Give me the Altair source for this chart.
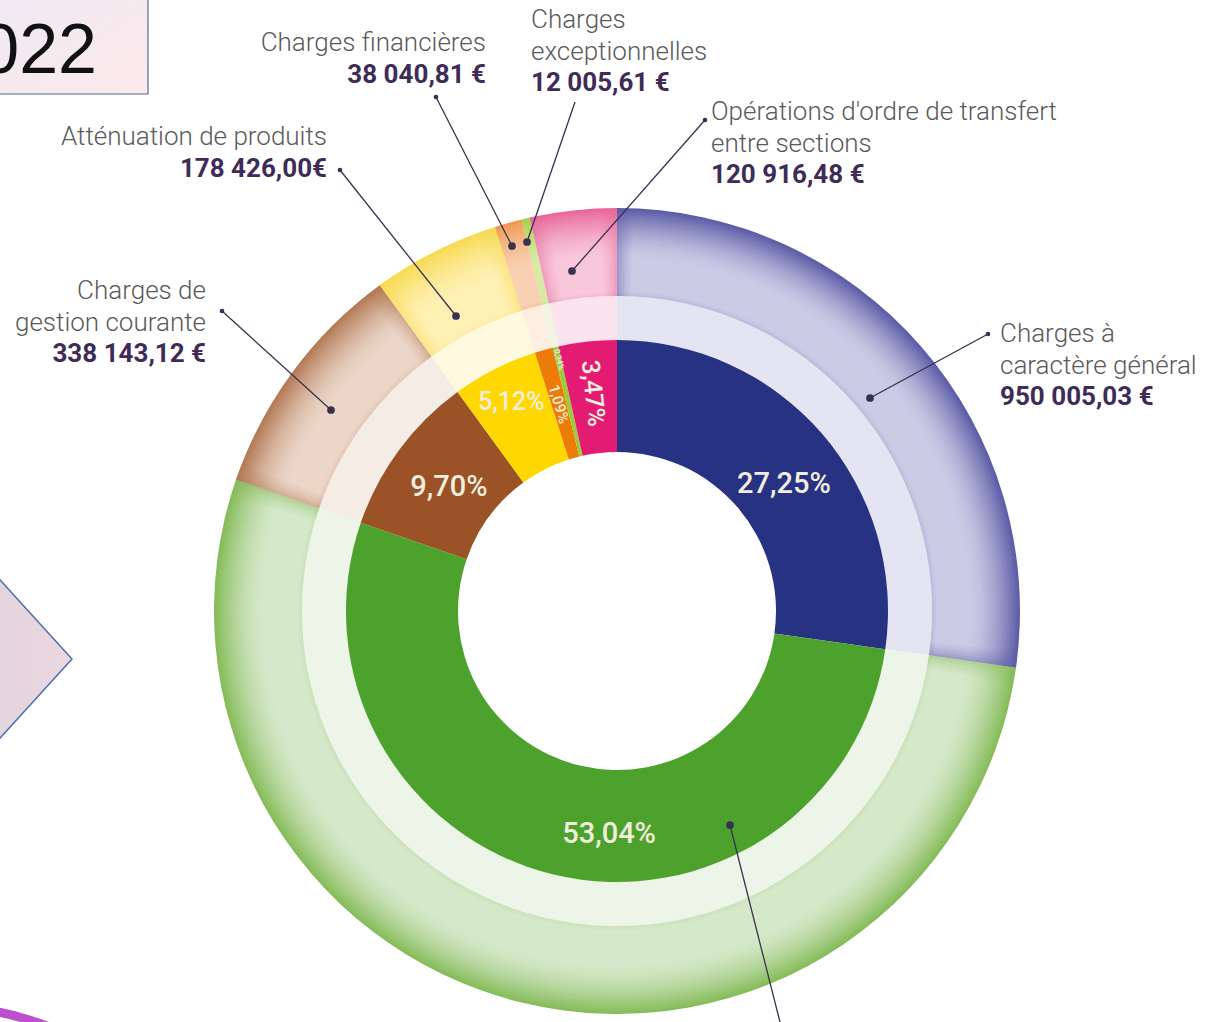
import altair as alt
import pandas as pd

# ---------------- data ----------------
categories = [
    "Charges à caractère général",
    "Charges de personnel",
    "Charges de gestion courante",
    "Atténuation de produits",
    "Charges financières",
    "Charges exceptionnelles",
    "Opérations d'ordre de transfert entre sections",
]
amount_labels = ["950 005,03 €", "", "338 143,12 €", "178 426,00€", "38 040,81 €", "12 005,61 €", "120 916,48 €"]
percents = [27.25, 53.04, 9.70, 5.12, 1.09, 0.34, 3.47]
pct_labels = ["27,25%", "53,04%", "9,70%", "5,12%", "1,09%", "0,34%", "3,47%"]

# ---------------- styles ----------------
main_colors = ["#283283", "#4da22d", "#9a5226", "#fed800", "#ec7b08", "#9fca3c", "#e31b72"]
band_colors = ["#e5e4f3", "#edf4e8", "#f5ece6", "#fff9df", "#fdeee2", "#f0f6e2", "#fbe4ee"]
body_colors = ["#cbcbe6", "#d6e8ca", "#ebd6c8", "#fff0b4", "#f9d0b2", "#d7eba5", "#f8c8da"]
rim_colors = ["#5a5aa6", "#84bb56", "#b27852", "#f7da50", "#ee9850", "#a4d04a", "#e76598"]
label_radius = [210, 223, 209, 234, 215, 258, 219]
label_nudge = [1.0, -3.2, 0, 0, 0, 0, 0]
label_angle = [0, 0, 0, 0, 74, 76, 84]
label_size = [29, 29, 29, 25, 15, 8, 25]

CX, CY = 617, 611
R_HOLE, R_IN, R_BAND, R_OUT = 159, 271, 315, 403
TOTAL = sum(percents)
FONT = "Roboto"

order_idx = list(range(len(categories)))
base = pd.DataFrame({"cat": categories, "pct": percents, "idx": order_idx})
theta_scale = alt.Scale(domain=[0, TOTAL])


def hex2rgb(h):
    h = h.lstrip("#")
    return [int(h[i:i + 2], 16) for i in (0, 2, 4)]


def mix(a, b, t):
    ra, rb = hex2rgb(a), hex2rgb(b)
    return "#" + "".join(f"{int(round(x + (y - x) * t)):02x}" for x, y in zip(ra, rb))


def ring_layer(df, r_outer, r_inner, fill_field):
    return alt.Chart(df).mark_arc(radius=r_outer, radius2=r_inner, strokeWidth=0).encode(
        theta=alt.Theta("pct:Q", stack=True, scale=theta_scale),
        order=alt.Order("idx:Q"),
        fill=alt.Fill(f"{fill_field}:N", scale=None),
        x=alt.value(CX),
        y=alt.value(CY),
    )


layers = []

# ---- decorative page fragments ----
box = alt.Chart(pd.DataFrame({"a": [0]})).mark_rect(
    fill=alt.Gradient(gradient="linear", x1=0, y1=0, x2=1, y2=1,
                      stops=[alt.GradientStop(color="#eeeaf5", offset=0),
                             alt.GradientStop(color="#fce9ea", offset=1)]),
    stroke="#4d6d9c", strokeWidth=1.2,
).encode(x=alt.value(-20), x2=alt.value(148), y=alt.value(-20), y2=alt.value(94))
year = alt.Chart(pd.DataFrame({"t": ["2022"]})).mark_text(
    font="Liberation Sans", fontSize=70, align="right", baseline="alphabetic", color="#111111"
).encode(text="t:N", x=alt.value(97), y=alt.value(73))
diamond = alt.Chart(pd.DataFrame({"a": [0]})).mark_point(
    shape="M-1,0L0,-1.1L1,0L0,1.1Z", size=50176, filled=True, opacity=1,
    fill=alt.Gradient(gradient="linear", x1=0, y1=0, x2=1, y2=0,
                      stops=[alt.GradientStop(color="#d3cfdc", offset=0),
                             alt.GradientStop(color="#ecd7de", offset=1)]),
    stroke="#4a6fb3", strokeWidth=1.5,
).encode(x=alt.value(-40), y=alt.value(659))
purple = alt.Chart(pd.DataFrame({"a": [0]})).mark_arc(
    radius=300, radius2=291, theta=0, theta2=6.2832, fill="#bb4fd0"
).encode(x=alt.value(-59), y=alt.value(1302))
layers += [box, year, diamond, purple]

# ---- light band ----
band_df = base.assign(c=band_colors)
layers.append(ring_layer(band_df, R_BAND, R_IN - 2, "c"))

# ---- outer ring with radial shading ----
steps = 44
step_w = (R_OUT - R_BAND) / steps
for i in range(steps):
    t = (i + 0.5) / steps
    if t < 0.06:
        f = 0.15 * (1 - t / 0.06)
    elif t < 0.42:
        f = 0.0
    else:
        f = ((t - 0.42) / 0.58) ** 1.6
    cols = [mix(b, r, f) for b, r in zip(body_colors, rim_colors)]
    df = base.assign(c=cols)
    r0 = R_BAND + i * step_w
    top = min(r0 + step_w + 1.0, R_OUT)
    layers.append(ring_layer(df, top, r0, "c"))

# ---- bevel shading along the segment edges of the outer ring ----
edge_rows = []
start = 0.0
strip_w = 0.11
strip_op = [0.42, 0.32, 0.24, 0.16, 0.10, 0.05]
for k, p in enumerate(percents):
    end = start + p
    if p > 2:
        for j, op in enumerate(strip_op):
            edge_rows.append({"a": start + j * strip_w, "b": start + (j + 1) * strip_w,
                              "c": rim_colors[k], "op": op})
            edge_rows.append({"a": end - (j + 1) * strip_w, "b": end - j * strip_w,
                              "c": rim_colors[k], "op": op})
    start = end
edge_df = pd.DataFrame(edge_rows)
edges = alt.Chart(edge_df).mark_arc(radius=R_OUT, radius2=R_BAND, strokeWidth=0).encode(
    theta=alt.Theta("a:Q", stack=None, scale=theta_scale),
    theta2="b:Q",
    fill=alt.Fill("c:N", scale=None),
    fillOpacity=alt.FillOpacity("op:Q", scale=None),
    x=alt.value(CX),
    y=alt.value(CY),
)
layers.append(edges)

# ---- main inner ring ----
main_df = base.assign(c=main_colors)
layers.append(ring_layer(main_df, R_IN, R_HOLE, "c"))

# ---- percentage labels ----
cum = []
s = 0.0
for p in percents:
    cum.append(s + p / 2)
    s += p
lab_df = pd.DataFrame({
    "lab": pct_labels,
    "mid": [m + n for m, n in zip(cum, label_nudge)],
    "r": label_radius,
    "ang": label_angle,
    "size": label_size,
})
pct_text = alt.Chart(lab_df).mark_text(
    font=FONT, fontWeight=500, color="#f1eedd", align="center", baseline="middle"
).encode(
    theta=alt.Theta("mid:Q", stack=None, scale=theta_scale),
    radius=alt.Radius("r:Q", scale=None),
    angle=alt.Angle("ang:Q", scale=None),
    size=alt.Size("size:Q", scale=None),
    text="lab:N",
    x=alt.value(CX),
    y=alt.value(CY),
)
layers.append(pct_text)

# ---- leader lines & annotations (layout) ----
leaders = pd.DataFrame({
    "cat": categories,
    "x1": [988, 730, 222, 340, 436, 575, 705],
    "y1": [334, 825, 311, 170, 97, 102, 120],
    "x2": [870, 782, 331, 456, 512, 527, 572],
    "y2": [398, 1030, 410, 316, 246, 242, 271],
})
rules = alt.Chart(leaders).mark_rule(color="#3a3050", strokeWidth=1.3).encode(
    x=alt.X("x1:Q", scale=None), y=alt.Y("y1:Q", scale=None),
    x2="x2:Q", y2="y2:Q",
)
dots_in = pd.DataFrame({
    "x": [870, 730, 331, 456, 512, 527, 572],
    "y": [398, 825, 410, 316, 246, 242, 271],
})
dots_out = pd.DataFrame({
    "x": [988, 222, 340, 436, 705],
    "y": [334, 311, 170, 97, 120],
})
d_in = alt.Chart(dots_in).mark_circle(size=60, color="#3a3050", opacity=1).encode(
    x=alt.X("x:Q", scale=None), y=alt.Y("y:Q", scale=None))
d_out = alt.Chart(dots_out).mark_circle(size=22, color="#3a3050", opacity=1).encode(
    x=alt.X("x:Q", scale=None), y=alt.Y("y:Q", scale=None))
layers += [rules, d_in, d_out]

name_lines = [
    ["Charges à", "caractère général"],
    [],
    ["Charges de", "gestion courante"],
    ["Atténuation de produits"],
    ["Charges financières"],
    ["Charges", "exceptionnelles"],
    ["Opérations d'ordre de transfert", "entre sections"],
]
anchor_x = [1000, 0, 206, 327, 486, 531, 711]
anchor_y = [334, 0, 291, 137, 43, 20, 112]
anchor_align = ["left", "left", "right", "right", "right", "left", "left"]
LINE_H = 31.5

rows = []
for k in range(len(categories)):
    if not name_lines[k]:
        continue
    for j, ln in enumerate(name_lines[k]):
        rows.append({"t": ln, "x": anchor_x[k], "y": anchor_y[k] + j * LINE_H,
                     "al": anchor_align[k], "w": "name"})
    rows.append({"t": amount_labels[k], "x": anchor_x[k],
                 "y": anchor_y[k] + len(name_lines[k]) * LINE_H,
                 "al": anchor_align[k], "w": "value"})
ann = pd.DataFrame(rows)

for al in ["left", "right"]:
    for w, weight, col in [("name", 300, "#5a5a5a"), ("value", 700, "#3e2c57")]:
        sub = ann[(ann.al == al) & (ann.w == w)]
        if len(sub) == 0:
            continue
        layers.append(
            alt.Chart(sub).mark_text(font=FONT, fontSize=26, fontWeight=weight, color=col,
                                     align=al, baseline="middle").encode(
                x=alt.X("x:Q", scale=None), y=alt.Y("y:Q", scale=None), text="t:N")
        )

chart = alt.layer(*layers).properties(
    width=1218, height=1022, padding=0,
    autosize=alt.AutoSizeParams(type="none"),
).configure(background="white").configure_view(stroke=None, strokeWidth=0)

chart.save("out.html", embed_options={"renderer": "svg", "actions": False})
